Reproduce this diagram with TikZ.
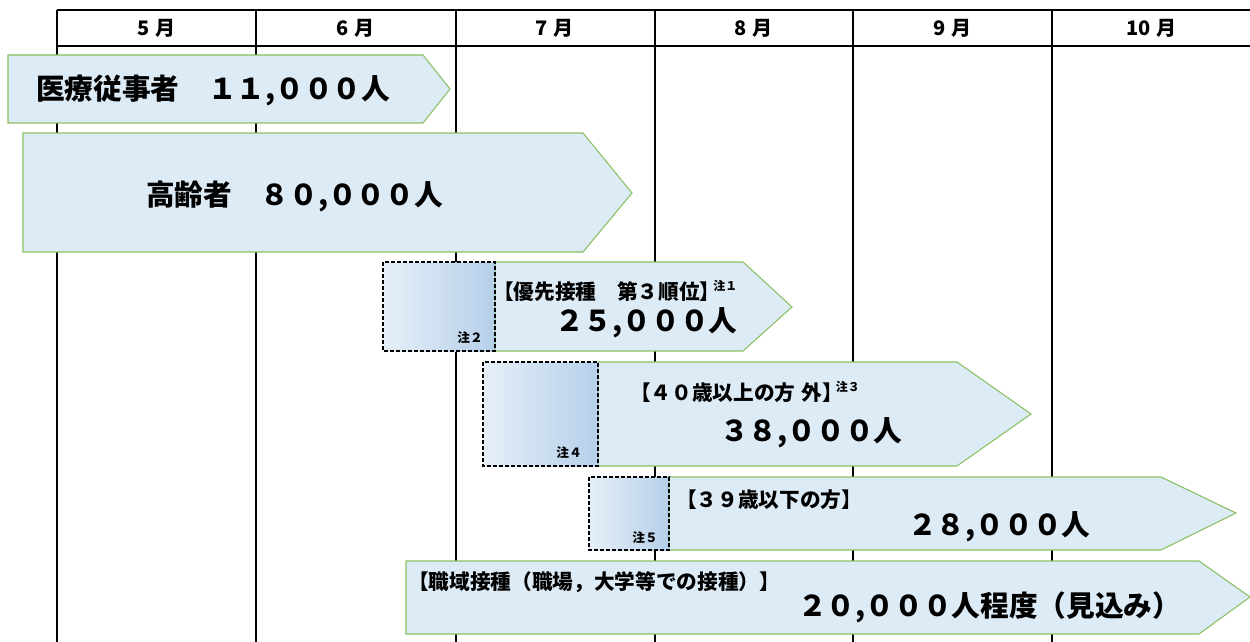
\documentclass[tikz,border=0pt]{standalone}
\usepackage{fontspec}
\setmainfont{Noto Sans CJK JP}
\usepackage{xcolor}
\definecolor{colorBody}{RGB}{221,235,247}
\definecolor{colorEdge}{RGB}{137,192,96}
\definecolor{colorNote}{RGB}{174,203,232}
\usetikzlibrary{positioning}
\pgfdeclarehorizontalshading{noteShade}{100bp}{color(0bp)=(white); color(82bp)=(colorNote); color(100bp)=(colorNote!80!white)}
\newcommand{\notesup}[1]{\hspace{-0.35em}\raisebox{0.75ex}{\fontsize{9}{10}\selectfont #1}}

\begin{document}
\begin{tikzpicture}[x=0.75pt, y=-0.75pt,
  grid/.style={black, line width=0.8pt},
  body/.style={fill=colorBody, draw=colorEdge, line width=0.8pt},
  notebox/.style={shading=noteShade, draw=black, line width=1pt, dash pattern=on 3pt off 1.5pt},
  month/.style={font=\bfseries\fontsize{15}{17}\selectfont},
  bigtext/.style={anchor=west, inner sep=0pt, font=\bfseries\fontsize{21.5}{24}\selectfont},
  tiertext/.style={anchor=west, inner sep=0pt, font=\bfseries\fontsize{15.5}{18}\selectfont},
  headcount/.style={anchor=west, inner sep=0pt, font=\bfseries\fontsize{21.5}{24}\selectfont},
  notetag/.style={anchor=east, inner sep=0pt, font=\bfseries\fontsize{9.5}{10}\selectfont}]
\useasboundingbox (0,0) rectangle (1250,642);
% month grid
\foreach \x in {57,256,456,655,853,1052}
  \draw[grid] (\x,10) -- (\x,642);
\draw[grid, line width=1.1pt] (57,10) -- (1250,10) (57,46) -- (1250,46);
\foreach \m [count=\i] in {5,6,7,8,9,10}
  \node[month] (m\m) at ({57+199*(\i-0.5)},28) {\m\hspace{0.3em}月};
% medical staff
\draw[body] (8,55) -- (423,55) -- (450,89) -- (423,123) -- (8,123) -- cycle;
\node[bigtext] (medical) at (36,90) {医療従事者　１１,０００人};
% elderly
\draw[body] (23,133) -- (583,133) -- (632,193) -- (583,252) -- (23,252) -- cycle;
\node[bigtext] (elderly) at (146,196) {高齢者　８０,０００人};
% priority 3
\draw[body] (495,262) -- (743,262) -- (792,307) -- (743,351) -- (495,351) -- cycle;
\draw[notebox] (383,262) rectangle (495,351);
\node[notetag] (note2) at (483,338) {注２};
\node[tiertext] (prio) at (493,291) {【優先接種　第３順位】\notesup{注１}};
\node[headcount] (prioN) at (555,323) {２５,０００人};
% over 40
\draw[body] (598,362) -- (957,362) -- (1031,414) -- (957,466) -- (598,466) -- cycle;
\draw[notebox] (483,362) rectangle (598,466);
\node[notetag] (note4) at (582,453) {注４};
\node[tiertext] (over40) at (630,392) {【４０歳以上の方\hspace{0.3em}外】\notesup{注３}};
\node[headcount] (over40N) at (720,433) {３８,０００人};
% under 39
\draw[body] (669,477) -- (1161,477) -- (1236,513) -- (1161,550) -- (669,550) -- cycle;
\draw[notebox] (589,477) rectangle (669,550);
\node[notetag] (note5) at (658,538) {注５};
\node[tiertext] (under39) at (676,500) {【３９歳以下の方】};
\node[headcount] (under39N) at (908,527) {２８,０００人};
% workplace
\draw[body] (406,561) -- (1199,561) -- (1250,597) -- (1199,634) -- (406,634) -- cycle;
\node[tiertext] (work) at (408,582) {【職域接種（職場，大学等での接種）】};
\node[headcount] (workN) at (798,607) {２０,０００人程度（見込み）};
\end{tikzpicture}
\end{document}
